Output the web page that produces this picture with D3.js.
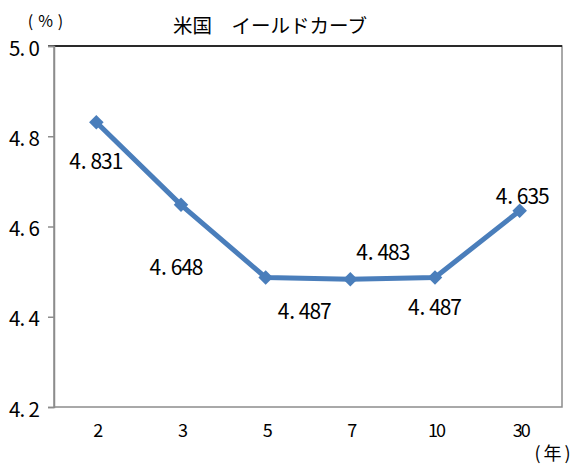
<!DOCTYPE html>
<html><head><meta charset="utf-8">
<script src="https://cdn.jsdelivr.net/npm/d3@7"></script>
<style>
body{margin:0;background:#fff;}
svg{display:block;font-family:"Noto Sans CJK JP","Noto Sans",sans-serif;}
</style></head>
<body><svg id="c" width="576" height="464"></svg>
<script>
const categories = ["2","3","5","7","10","30"];
const values = [4.831, 4.648, 4.487, 4.483, 4.487, 4.635];
const yTicks = [4.2, 4.4, 4.6, 4.8, 5.0];
const labelOffsets = [[0,38],[-4.5,61],[39,33],[33,-28],[0,29],[3,-16]];

const svg = d3.select("#c");
const m = {l:54, r:562, t:46, b:407};
const x = d3.scaleBand().domain(categories).range([m.l, m.r]);
const y = d3.scaleLinear().domain([4.2, 5.0]).range([m.b, m.t]);

// half-width cell text (emulates a monospaced Japanese font)
function cellText(str, cx, cy, size, cell){
  const t = svg.append("text").attr("font-size", size).attr("text-anchor","middle")
    .attr("dominant-baseline","central").attr("fill","#000");
  const chars = [...str];
  const start = cx - chars.length*cell/2 + cell/2;
  chars.forEach((ch,i)=>{
    t.append("tspan").attr("x", start + i*cell + (ch === "." ? -2 : 0)).attr("y", cy).text(ch);
  });
  return t;
}

// frame
svg.append("rect").attr("x", m.l).attr("y", m.t).attr("width", m.r-m.l).attr("height", m.b-m.t)
  .attr("fill","none").attr("stroke","#8c8c8c").attr("stroke-width",1.5);
svg.append("line").attr("x1",m.l-6).attr("x2",m.r).attr("y1",m.t).attr("y2",m.t).attr("stroke","#000").attr("stroke-width",1.5);

// y axis
const yAxis = svg.append("g").attr("transform",`translate(${m.l},0)`)
  .call(d3.axisLeft(y).tickValues(yTicks).tickFormat("").tickSize(6));
yAxis.select(".domain").attr("stroke","#8c8c8c").attr("stroke-width",1.5);
yAxis.selectAll(".tick line").attr("stroke","#8c8c8c").attr("stroke-width",1.5);
yTicks.forEach(v => cellText(d3.format(".1f")(v), 39 - 1.5*9.7, y(v)+0.5, 20.5, 9.7));

// x axis labels
svg.selectAll(".xl").data(categories).join("text")
  .attr("x", c => x(c) + x.bandwidth()/2 + 1)
  .attr("y", 428.5).attr("dominant-baseline","central").attr("text-anchor","middle")
  .attr("font-size",18).attr("letter-spacing",-2).text(c => c);

// line
const cx = d => x(d.c) + x.bandwidth()/2;
const pts = categories.map((c,i)=>({c, v:values[i], i}));
svg.append("path").datum(pts)
  .attr("d", d3.line().x(cx).y(d=>y(d.v)))
  .attr("fill","none").attr("stroke","#4a7ebb").attr("stroke-width",5).attr("stroke-linejoin","round");
svg.selectAll(".mk").data(pts).join("path")
  .attr("transform", d=>`translate(${cx(d)},${y(d.v)})`)
  .attr("d", d3.symbol(d3.symbolDiamond2, 135)())
  .attr("fill","#4a7ebb");

// data labels
pts.forEach(d => cellText(d3.format(".3f")(d.v), cx(d)+labelOffsets[d.i][0], y(d.v)+labelOffsets[d.i][1], 21, 10.6));

// titles
svg.append("text").attr("x",270).attr("y",24).attr("dominant-baseline","central").attr("text-anchor","middle").attr("font-size",19.5).text("米国　イールドカーブ");
svg.append("text").attr("x",48).attr("y",20).attr("dominant-baseline","central").attr("text-anchor","middle").attr("font-size",16).attr("letter-spacing",5).text("(%)");
svg.append("text").attr("x",554).attr("y",451.5).attr("dominant-baseline","central").attr("text-anchor","middle").attr("font-size",18).attr("letter-spacing",3).text("(年)");
</script></body></html>
